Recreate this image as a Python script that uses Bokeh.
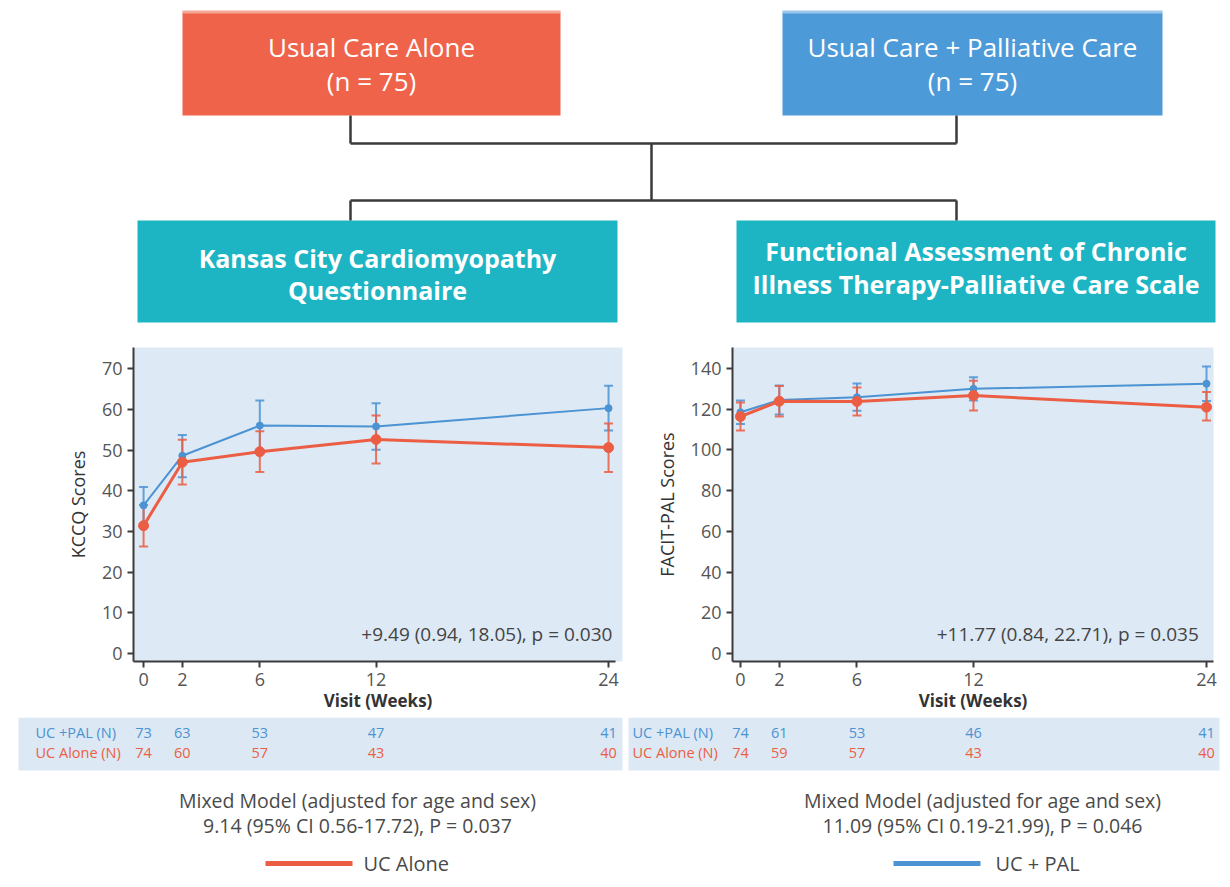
from bokeh.plotting import figure
from bokeh.layouts import column, row
from bokeh.models import Range1d, FixedTicker, ColumnDataSource, Whisker, TeeHead, Label
from bokeh.embed import file_html
from bokeh.resources import INLINE
from bokeh.core.properties import value

# ---------------------------------------------------------------- data
weeks = [0, 2, 6, 12, 24]

# KCCQ scores (mean with 95% CI)
kccq_pal = [36.4, 48.6, 56.0, 55.8, 60.3]
kccq_pal_lo = [31.9, 43.3, 49.8, 50.1, 54.8]
kccq_pal_hi = [40.9, 53.7, 62.2, 61.5, 65.8]
kccq_uc = [31.4, 47.0, 49.6, 52.6, 50.6]
kccq_uc_lo = [26.3, 41.5, 44.6, 46.7, 44.6]
kccq_uc_hi = [36.5, 52.5, 54.6, 58.5, 56.5]

# FACIT-PAL scores (mean with 95% CI)
facit_pal = [118.5, 124.5, 125.9, 130.0, 132.5]
facit_pal_lo = [112.7, 117.4, 119.2, 124.3, 124.0]
facit_pal_hi = [124.3, 131.6, 132.6, 135.7, 141.0]
facit_uc = [116.4, 123.9, 123.8, 126.7, 121.0]
facit_uc_lo = [109.5, 116.4, 116.9, 119.4, 114.4]
facit_uc_hi = [123.3, 131.4, 130.7, 134.0, 128.4]

# patients at each visit
n_pal_kccq = [73, 63, 53, 47, 41]
n_uc_kccq = [74, 60, 57, 43, 40]
n_pal_facit = [74, 61, 53, 46, 41]
n_uc_facit = [74, 59, 57, 43, 40]

kccq_ticks = [0, 10, 20, 30, 40, 50, 60, 70]
facit_ticks = [0, 20, 40, 60, 80, 100, 120, 140]

arm_labels = ["Usual Care Alone", "Usual Care + Palliative Care"]
arm_sizes = ["(n = 75)", "(n = 75)"]
scale_labels = [["Kansas City Cardiomyopathy", "Questionnaire"],
                ["Functional Assessment of Chronic", "Illness Therapy-Palliative Care Scale"]]
row_labels = ["UC +PAL (N)", "UC Alone (N)"]
kccq_note = "+9.49 (0.94, 18.05), p = 0.030"
facit_note = "+11.77 (0.84, 22.71), p = 0.035"
kccq_model = ["Mixed Model (adjusted for age and sex)", "9.14 (95% CI 0.56-17.72), P = 0.037"]
facit_model = ["Mixed Model (adjusted for age and sex)", "11.09 (95% CI 0.19-21.99), P = 0.046"]
legend_labels = ["UC Alone", "UC + PAL"]

# ---------------------------------------------------------------- style
FONT = "Open Sans"
RED = "#ec5e44"
BLUE = "#4b93d3"
RED_BOX = "#ef634a"
BLUE_BOX = "#4d9ad9"
TEAL = "#1db5c4"
PANEL = "#dde9f4"
TABLE_BG = "#dce8f3"
INK = "#3a3a3a"
GREY = "#4a4a4a"
PAGE_W = 1230


def blank(width, height, xr, yr, **kw):
    return figure(width=width, height=height, x_range=xr, y_range=yr,
                  x_axis_type=None, y_axis_type=None, output_backend="svg",
                  toolbar_location=None, outline_line_color=None,
                  border_fill_color="white", min_border=0, **kw)


# ---------------------------------------------------------------- flow diagram
top = blank(PAGE_W, 340, Range1d(0, PAGE_W), Range1d(340, 0))

arm_box_x = [(182, 560), (782, 1162)]
arm_box_y = (12, 115)
scale_box_x = [(137, 617), (736, 1215)]
scale_box_y = (220, 322)
drop_x = [350, 956]
mid_x = 651
bus_y = [143, 200]

top.quad(left=[b[0] for b in arm_box_x], right=[b[1] for b in arm_box_x],
         top=[arm_box_y[0]] * 2, bottom=[arm_box_y[1]] * 2,
         fill_color=[RED_BOX, BLUE_BOX], line_color=None)
# lighter rim along the top of the two arm boxes
top.quad(left=[b[0] for b in arm_box_x], right=[b[1] for b in arm_box_x],
         top=[arm_box_y[0] - 2] * 2, bottom=[arm_box_y[0] + 1] * 2,
         fill_color=["#f6a896", "#9cc6ec"], line_color=None)
top.quad(left=[b[0] for b in scale_box_x], right=[b[1] for b in scale_box_x],
         top=[scale_box_y[0]] * 2, bottom=[scale_box_y[1]] * 2,
         fill_color=TEAL, line_color=None)

top.multi_line(
    xs=[[drop_x[0], drop_x[0]], [drop_x[1], drop_x[1]], [drop_x[0], drop_x[1]],
        [mid_x, mid_x], [drop_x[0], drop_x[1]], [drop_x[0], drop_x[0]], [drop_x[1], drop_x[1]]],
    ys=[[arm_box_y[1], bus_y[0]], [arm_box_y[1], bus_y[0]], [bus_y[0], bus_y[0]],
        [bus_y[0], bus_y[1]], [bus_y[1], bus_y[1]], [bus_y[1], scale_box_y[0]],
        [bus_y[1], scale_box_y[0]]],
    line_color=INK, line_width=2.5)

arm_cx = [(b[0] + b[1]) / 2 for b in arm_box_x]
top.text(x=arm_cx, y=[46, 46], text=arm_labels, text_align="center", text_baseline="middle",
         text_font=value(FONT), text_font_size="26px", text_color="white")
top.text(x=arm_cx, y=[80, 80], text=arm_sizes, text_align="center", text_baseline="middle",
         text_font=value(FONT), text_font_size="26px", text_color="white")

scale_cx = [(b[0] + b[1]) / 2 for b in scale_box_x]
top.text(x=scale_cx, y=[257, 250], text=[s[0] for s in scale_labels], text_align="center",
         text_baseline="middle", text_font=value(FONT), text_font_size="25px",
         text_font_style="bold", text_color="white")
top.text(x=scale_cx, y=[289, 283], text=[s[1] for s in scale_labels], text_align="center",
         text_baseline="middle", text_font=value(FONT), text_font_size="25px",
         text_font_style="bold", text_color="white")


# ---------------------------------------------------------------- line charts
CHART_H = 377
CHART_TOP = 7
CHART_BOTTOM = 56


def make_chart(width, border_l, border_r, x_rng, y_rng, ticks, ylabel, series, note, note_xy):
    p = figure(width=width, height=CHART_H, x_range=Range1d(*x_rng), y_range=Range1d(*y_rng),
               output_backend="svg", toolbar_location=None,
               min_border_left=border_l, min_border_right=border_r,
               min_border_top=CHART_TOP, min_border_bottom=CHART_BOTTOM,
               background_fill_color=PANEL, border_fill_color="white",
               outline_line_color=None)
    p.grid.visible = False

    p.xaxis.ticker = FixedTicker(ticks=weeks)
    p.yaxis.ticker = FixedTicker(ticks=ticks)
    p.xaxis.bounds = (x_rng[0], 24.35)
    p.xaxis.axis_label = "Visit (Weeks)"
    p.yaxis.axis_label = ylabel
    for ax in (p.xaxis[0], p.yaxis[0]):
        ax.axis_line_color = "#3c3c3c"
        ax.axis_line_width = 2
        ax.major_tick_line_color = "#3c3c3c"
        ax.major_tick_line_width = 2
        ax.major_tick_out = 6
        ax.major_tick_in = 0
        ax.minor_tick_line_color = None
        ax.major_label_text_font = FONT
        ax.major_label_text_font_size = "18px"
        ax.major_label_text_color = "#555555"
        ax.major_label_standoff = 5
        ax.axis_label_text_font = FONT
        ax.axis_label_text_color = "#333333"
    p.xaxis.axis_label_text_font_size = "17px"
    p.xaxis.axis_label_text_font_style = "bold"
    p.xaxis.axis_label_standoff = 0
    p.yaxis.axis_label_text_font_size = "18px"
    p.yaxis.axis_label_text_font_style = "normal"
    p.yaxis.axis_label_standoff = 9

    for mean, lo, hi, color, lw, size in series:
        src = ColumnDataSource(dict(x=weeks, y=mean, lo=lo, hi=hi))
        p.add_layout(Whisker(base="x", upper="hi", lower="lo", source=src,
                             line_color=color, line_width=2, line_alpha=0.85,
                             upper_head=TeeHead(size=9, line_color=color, line_width=2, line_alpha=0.85),
                             lower_head=TeeHead(size=9, line_color=color, line_width=2, line_alpha=0.85)))
        p.line("x", "y", source=src, line_color=color, line_width=lw)
        p.scatter("x", "y", source=src, size=size, fill_color=color, line_color=color)

    p.add_layout(Label(x=note_xy[0], y=note_xy[1], text=note, text_align="right",
                       text_baseline="middle", text_font=FONT, text_font_size="19px",
                       text_color="#444444"))
    return p


L_W, L_BL, L_BR = 628, 133, 6
R_W, R_BL, R_BR = PAGE_W - L_W, 104, 17
kccq_x = (-0.52, 24.72)
facit_x = (-0.41, 24.36)

left_chart = make_chart(
    L_W, L_BL, L_BR, kccq_x, (-1.97, 75.2), kccq_ticks, "KCCQ Scores",
    [(kccq_pal, kccq_pal_lo, kccq_pal_hi, BLUE, 2, 7),
     (kccq_uc, kccq_uc_lo, kccq_uc_hi, RED, 3, 10)],
    kccq_note, (24.2, 4.9))

right_chart = make_chart(
    R_W, R_BL, R_BR, facit_x, (-3.93, 150.3), facit_ticks, "FACIT-PAL Scores",
    [(facit_pal, facit_pal_lo, facit_pal_hi, BLUE, 2, 7),
     (facit_uc, facit_uc_lo, facit_uc_hi, RED, 3, 10)],
    facit_note, (23.6, 9.8))


# ---------------------------------------------------------------- tables, model results, legend
BOTTOM_H = 170
bottom = blank(PAGE_W, BOTTOM_H, Range1d(0, PAGE_W), Range1d(BOTTOM_H, 0))


def week_range(x_rng, frame_left, frame_w):
    """Week scale spanning the whole page width, lined up with a chart's frame."""
    k = frame_w / (x_rng[1] - x_rng[0])
    start = x_rng[0] - frame_left / k
    return Range1d(start, start + PAGE_W / k)


bottom.extra_x_ranges = {
    "kccq": week_range(kccq_x, L_BL, L_W - L_BL - L_BR),
    "facit": week_range(facit_x, L_W + R_BL, R_W - R_BL - R_BR),
}

table_x = [(18, 622), (628, 1219)]
table_y = (0, 53)
row_y = [15, 35]
bottom.quad(left=[t[0] for t in table_x], right=[t[1] for t in table_x],
            top=[table_y[0]] * 2, bottom=[table_y[1]] * 2,
            fill_color=TABLE_BG, line_color=None)

label_x = [35, 632]
for lx in label_x:
    bottom.text(x=[lx, lx], y=row_y, text=row_labels, text_align="left",
                text_baseline="middle", text_font=value(FONT), text_font_size="14.5px",
                text_color=[BLUE, RED])

for rng, n_pal, n_uc in (("kccq", n_pal_kccq, n_uc_kccq), ("facit", n_pal_facit, n_uc_facit)):
    bottom.text(x=weeks, y=[row_y[0]] * 5, text=[str(v) for v in n_pal], x_range_name=rng,
                text_align="center", text_baseline="middle", text_font=value(FONT),
                text_font_size="14.5px", text_color=BLUE)
    bottom.text(x=weeks, y=[row_y[1]] * 5, text=[str(v) for v in n_uc], x_range_name=rng,
                text_align="center", text_baseline="middle", text_font=value(FONT),
                text_font_size="14.5px", text_color=RED)

model_cx = [357, 982]
bottom.text(x=model_cx, y=[83, 83], text=[kccq_model[0], facit_model[0]], text_align="center",
            text_baseline="middle", text_font=value(FONT), text_font_size="19.5px", text_color=GREY)
bottom.text(x=model_cx, y=[108, 108], text=[kccq_model[1], facit_model[1]], text_align="center",
            text_baseline="middle", text_font=value(FONT), text_font_size="19.5px", text_color=GREY)

legend_y = 146
bottom.segment(x0=[265, 893], y0=[legend_y] * 2, x1=[352, 980], y1=[legend_y] * 2,
               line_color=[RED, BLUE], line_width=5)
bottom.text(x=[363, 995], y=[legend_y] * 2, text=legend_labels, text_align="left",
            text_baseline="middle", text_font=value(FONT), text_font_size="20px", text_color=GREY)

layout = column(top, row(left_chart, right_chart, spacing=0), bottom, spacing=0)

open("out.html", "w").write(file_html(layout, INLINE))
